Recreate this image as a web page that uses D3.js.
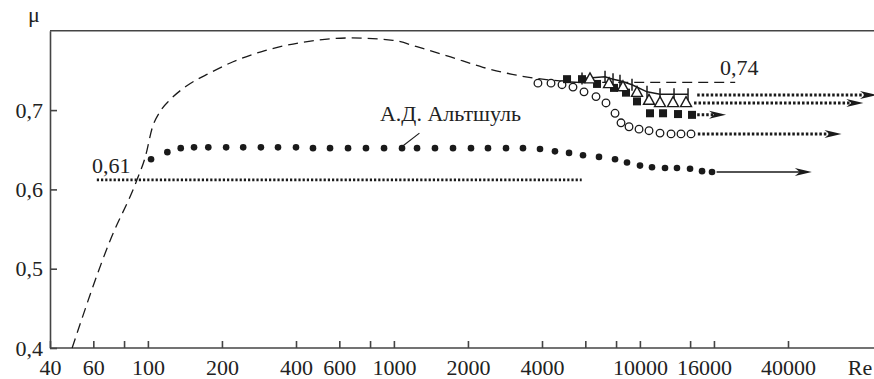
<!DOCTYPE html>
<html>
<head>
<meta charset="utf-8">
<script src="https://cdn.jsdelivr.net/npm/d3@7"></script>
<style>
  body { margin: 0; background: #fff; }
  text { font-family: "Liberation Serif", "Times New Roman", serif; fill: #222; }
</style>
</head>
<body>
<svg id="chart" width="874" height="379"></svg>
<script>
// ticks
var xTicks = [40, 60, 80, 100, 200, 400, 600, 800, 1000, 2000, 4000, 6000, 8000, 10000, 16000, 20000, 40000];
var xLabels = [40, 60, 100, 200, 400, 600, 1000, 2000, 4000, 10000, 16000, 40000];
var yTicks = [0.4, 0.5, 0.6, 0.7];

// dashed reference curve
var curveRe = [49.2, 70.3, 90.3, 98, 104, 112, 123, 143, 179, 222, 299, 415, 664, 991, 1240, 1700, 2300, 3150, 4300, 5700, 24400];
var curveMu = [0.400, 0.536, 0.612, 0.643, 0.677, 0.698, 0.713, 0.730, 0.747, 0.761, 0.775, 0.785, 0.791, 0.788, 0.780, 0.767, 0.754, 0.744, 0.738, 0.735, 0.735];

// А.Д. Альтшуль (filled dots)
var altshulRe = [103, 120, 136, 154, 176, 208, 244, 288, 338, 400, 469, 550, 651, 770, 912, 1079, 1242, 1469, 1739, 2058, 2413, 2856, 3348, 3926, 4516, 5152, 5872, 6820, 7924, 8864, 10010, 11200, 12650, 14150, 15990, 17890, 19640];
var altshulMu = [0.638, 0.647, 0.652, 0.653, 0.653, 0.653, 0.653, 0.653, 0.653, 0.653, 0.652, 0.652, 0.652, 0.652, 0.652, 0.652, 0.652, 0.652, 0.652, 0.652, 0.652, 0.652, 0.652, 0.651, 0.648, 0.646, 0.643, 0.641, 0.638, 0.634, 0.630, 0.628, 0.627, 0.627, 0.626, 0.623, 0.622];

// open circles
var circleRe = [3851, 4352, 4824, 5346, 5927, 6632, 7281, 7924, 8380, 9032, 9920, 10892, 12072, 13384, 14692, 16136];
var circleMu = [0.734, 0.734, 0.732, 0.729, 0.723, 0.717, 0.709, 0.696, 0.684, 0.679, 0.676, 0.674, 0.671, 0.670, 0.670, 0.670];

// filled squares
var squareRe = [5056, 5817, 6696, 7848, 8780, 9732, 10992, 12420, 14288, 16288];
var squareMu = [0.739, 0.739, 0.733, 0.728, 0.722, 0.711, 0.696, 0.696, 0.695, 0.694];

// open triangles
var triRe = [6268, 7492, 8536, 9732, 10892, 12072, 13636, 15400];
var triMu = [0.740, 0.734, 0.730, 0.723, 0.713, 0.710, 0.710, 0.710];

// crosses
var crossRe = [5817, 7216, 7776, 8300, 9288, 10688, 12072, 13764, 15692];
var crossMu = [0.740, 0.742, 0.739, 0.737, 0.732, 0.723, 0.720, 0.720, 0.720];

// arrows to the asymptotes (first one solid, rest dotted)
var arrowFrom = [20500, 17200, 17100, 16600, 17100];
var arrowTo = [50000, 66000, 22400, 81000, 92000];
var arrowMu = [0.622, 0.670, 0.694, 0.709, 0.719];

// 0,61 level
var levelFrom = 62, levelTo = 5800, levelMu = 0.612;

var ink = '#1a1a1a';
var svg = d3.select('#chart');

var x = d3.scaleLog().domain([40, 90000]).range([50, 50 + 246 * Math.log10(90000 / 40)]);
var y = d3.scaleLinear().domain([0.4, 0.8]).range([348, 348 - 793 * 0.4]);

function fmt(d) { return String(d).replace('.', ','); }

// axes
var xAxis = svg.append('g').attr('transform', 'translate(0,' + y(0.4) + ')')
    .call(d3.axisBottom(x).tickValues(xTicks).tickSize(-7).tickSizeOuter(0).tickPadding(11)
        .tickFormat(function(d) { return xLabels.indexOf(d) >= 0 ? d : ''; }));
xAxis.selectAll('text').attr('font-size', 22).attr('fill', '#222')
    .attr('dx', function(d) { return d == 16000 ? 14 : 0; });

var yAxis = svg.append('g').attr('transform', 'translate(' + x(40) + ',0)')
    .call(d3.axisLeft(y).tickValues(yTicks).tickSize(-7).tickSizeOuter(0).tickPadding(7)
        .tickFormat(function(d) { return d.toFixed(1).replace('.', ','); }));
yAxis.selectAll('text').attr('font-size', 22).attr('fill', '#222');

svg.selectAll('.domain, .tick line').attr('stroke', '#444').attr('stroke-width', 1.6);
svg.select('.domain').attr('d', 'M' + x(40) + ',0H' + x(90000)); // bottom line full width

// top border
svg.append('line')
    .attr('x1', x(40)).attr('x2', x(90000))
    .attr('y1', y(0.8)).attr('y2', y(0.8))
    .attr('stroke', '#444').attr('stroke-width', 1.6);

// axis names
svg.append('text').attr('x', 34).attr('y', 22).attr('text-anchor', 'middle').attr('font-size', 22).text('μ');
svg.append('text').attr('x', 860).attr('y', y(0.4) + 11).attr('dy', '0.71em').attr('text-anchor', 'middle').attr('font-size', 22).text('Re');

var g = svg.append('g');

// dashed curve
var line = d3.line()
    .x(function(d, i) { return x(curveRe[i]); })
    .y(function(d, i) { return y(curveMu[i]); })
    .curve(d3.curveMonotoneX);
g.append('path').attr('d', line(curveRe))
    .attr('fill', 'none').attr('stroke', ink).attr('stroke-width', 1.3)
    .attr('stroke-dasharray', '10,6');

// 0,61 dotted level
g.append('line')
    .attr('x1', x(levelFrom)).attr('x2', x(levelTo))
    .attr('y1', y(levelMu)).attr('y2', y(levelMu))
    .attr('stroke', ink).attr('stroke-width', 2.6).attr('stroke-dasharray', '2.2,2');

// arrows
arrowFrom.forEach(function(a, i) {
    var px1 = x(a), px2 = x(arrowTo[i]), py = y(arrowMu[i]);
    var dotted = i > 0;
    g.append('line')
        .attr('x1', px1).attr('x2', px2 - 10)
        .attr('y1', py).attr('y2', py)
        .attr('stroke', ink)
        .attr('stroke-width', dotted ? 3 : 1.4)
        .attr('stroke-dasharray', dotted ? '2.5,2' : null);
    g.append('path')
        .attr('d', 'M' + px2 + ',' + py + 'L' + (px2 - 17) + ',' + (py - 4) + 'L' + (px2 - 12) + ',' + py + 'L' + (px2 - 17) + ',' + (py + 4) + 'Z')
        .attr('fill', ink);
});

// open circles
g.selectAll('.oc').data(circleRe).enter().append('circle')
    .attr('cx', function(d) { return x(d); })
    .attr('cy', function(d, i) { return y(circleMu[i]); })
    .attr('r', 3.8)
    .attr('fill', '#fff').attr('stroke', ink).attr('stroke-width', 1.3);

// crosses: connecting line + vertical ticks
var crossLine = d3.line()
    .x(function(d, i) { return x(crossRe[i]); })
    .y(function(d, i) { return y(crossMu[i]); });
g.append('path').attr('d', crossLine(crossRe))
    .attr('fill', 'none').attr('stroke', ink).attr('stroke-width', 1.5);
g.selectAll('.cr').data(crossRe).enter().append('line')
    .attr('x1', function(d) { return x(d); })
    .attr('x2', function(d) { return x(d); })
    .attr('y1', function(d, i) { return y(crossMu[i]) - 6; })
    .attr('y2', function(d, i) { return y(crossMu[i]) + 6; })
    .attr('stroke', ink).attr('stroke-width', 1.5);

// squares
g.selectAll('.sq').data(squareRe).enter().append('rect')
    .attr('x', function(d) { return x(d) - 4; })
    .attr('y', function(d, i) { return y(squareMu[i]) - 4; })
    .attr('width', 8).attr('height', 8)
    .attr('fill', ink);

// triangles
g.selectAll('.tr').data(triRe).enter().append('path')
    .attr('transform', function(d, i) { return 'translate(' + x(d) + ',' + y(triMu[i]) + ')'; })
    .attr('d', 'M0,-5.5L5.5,4.5L-5.5,4.5Z')
    .attr('fill', '#fff').attr('stroke', ink).attr('stroke-width', 1.4);

// filled dots
g.selectAll('.fd').data(altshulRe).enter().append('circle')
    .attr('cx', function(d) { return x(d); })
    .attr('cy', function(d, i) { return y(altshulMu[i]); })
    .attr('r', 3.3)
    .attr('fill', ink);

// annotations
svg.append('text').attr('x', x(59.3)).attr('y', y(0.621)).attr('font-size', 22).text(fmt(0.61));
svg.append('text').attr('x', x(21160)).attr('y', y(0.744)).attr('font-size', 22).text(fmt(0.74));
svg.append('text').attr('x', x(878)).attr('y', y(0.686)).attr('font-size', 22).text('А.Д. Альтшуль');
svg.append('line')
    .attr('x1', x(1270)).attr('y1', y(0.671))
    .attr('x2', x(1090)).attr('y2', y(0.655))
    .attr('stroke', ink).attr('stroke-width', 1.1);
</script>
</body>
</html>
